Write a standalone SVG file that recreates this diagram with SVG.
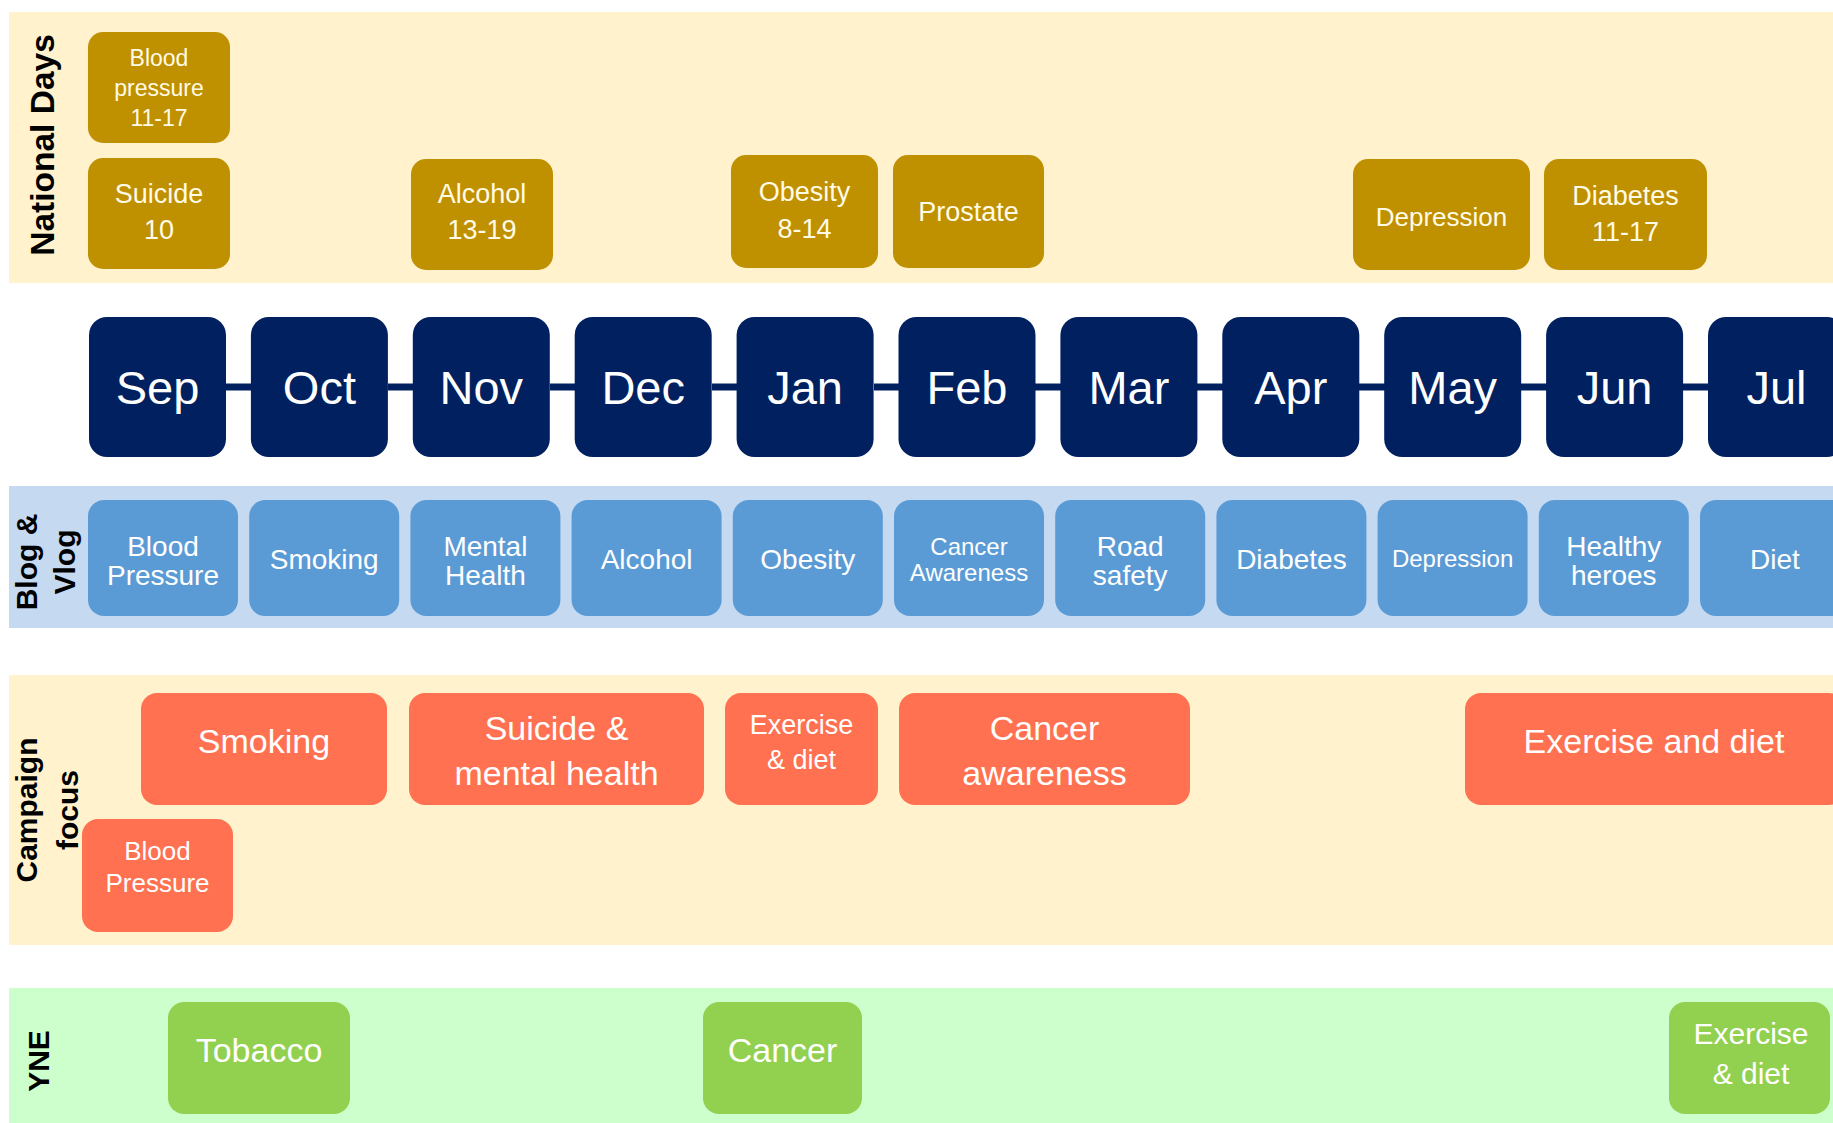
<svg xmlns="http://www.w3.org/2000/svg" width="1833" height="1123" viewBox="0 0 1833 1123">
<style>
text{font-family:"Liberation Sans",Arial,sans-serif;text-anchor:middle}
.band-cream{fill:#fff2cc}
.band-blue{fill:#c5d9f1}
.band-green{fill:#ccffcc}
.lab{font-weight:bold;fill:#000;font-size:30px}
.gold rect{fill:#bf9000}
.gold text{fill:#fffbe6;font-size:27px}
.month rect{fill:#002060}
.month text{fill:#fff;font-size:47px}
.blog rect{fill:#5b9bd5}
.blog text{fill:#fff;font-size:28px}
.camp rect{fill:#ff7150}
.camp text{fill:#fff;font-size:34px}
.yne rect{fill:#92d050}
.yne text{fill:#fff;font-size:34px}
.conn{stroke:#002060;stroke-width:7}
</style>
<rect width="1833" height="1123" fill="#fff"/>
<g id="bands">
<rect class="band-cream" x="9" y="12" width="1824" height="271"/>
<rect class="band-blue" x="9" y="486" width="1824" height="142"/>
<rect class="band-cream" x="9" y="675" width="1824" height="270"/>
<rect class="band-green" x="9" y="988" width="1824" height="135"/>
</g>
<g id="labels">
<text class="lab" style="font-size:33.5px" transform="translate(54,145) rotate(-90)">National Days</text>
<text class="lab" transform="translate(37,562) rotate(-90)">Blog &amp;</text>
<text class="lab" transform="translate(75,562) rotate(-90)">Vlog</text>
<text class="lab" transform="translate(37,810) rotate(-90)">Campaign</text>
<text class="lab" transform="translate(78,810) rotate(-90)">focus</text>
<text class="lab" transform="translate(49,1061) rotate(-90)">YNE</text>
</g>
<g id="connectors">
<line class="conn" x1="226" y1="387" x2="251" y2="387"/>
<line class="conn" x1="388" y1="387" x2="413" y2="387"/>
<line class="conn" x1="550" y1="387" x2="575" y2="387"/>
<line class="conn" x1="712" y1="387" x2="737" y2="387"/>
<line class="conn" x1="874" y1="387" x2="899" y2="387"/>
<line class="conn" x1="1035" y1="387" x2="1061" y2="387"/>
<line class="conn" x1="1197" y1="387" x2="1223" y2="387"/>
<line class="conn" x1="1359" y1="387" x2="1385" y2="387"/>
<line class="conn" x1="1521" y1="387" x2="1547" y2="387"/>
<line class="conn" x1="1683" y1="387" x2="1708" y2="387"/>
</g>
<g class="gold">
<g id="nd-blood-pressure"><rect x="88" y="32" width="142" height="111" rx="15"/><text x="159" y="66" style="font-size:23px">Blood</text><text x="159" y="96" style="font-size:23px">pressure</text><text x="159" y="126" style="font-size:23px">11-17</text></g>
<g id="nd-suicide"><rect x="88" y="158" width="142" height="111" rx="15"/><text x="159" y="203">Suicide</text><text x="159" y="239">10</text></g>
<g id="nd-alcohol"><rect x="411" y="159" width="142" height="111" rx="15"/><text x="482" y="203">Alcohol</text><text x="482" y="239">13-19</text></g>
<g id="nd-obesity"><rect x="731" y="155" width="147" height="113" rx="15"/><text x="804.5" y="201">Obesity</text><text x="804.5" y="238">8-14</text></g>
<g id="nd-prostate"><rect x="893" y="155" width="151" height="113" rx="15"/><text x="968.5" y="221">Prostate</text></g>
<g id="nd-depression"><rect x="1353" y="159" width="177" height="111" rx="15"/><text x="1441.5" y="226" style="font-size:26px">Depression</text></g>
<g id="nd-diabetes"><rect x="1544" y="159" width="163" height="111" rx="15"/><text x="1625.5" y="205">Diabetes</text><text x="1625.5" y="241">11-17</text></g>
</g>
<g class="month">
<g id="m-sep"><rect x="89" y="317" width="137" height="140" rx="18"/><text x="157.5" y="404">Sep</text></g>
<g id="m-oct"><rect x="250.9" y="317" width="137" height="140" rx="18"/><text x="319.4" y="404">Oct</text></g>
<g id="m-nov"><rect x="412.8" y="317" width="137" height="140" rx="18"/><text x="481.3" y="404">Nov</text></g>
<g id="m-dec"><rect x="574.7" y="317" width="137" height="140" rx="18"/><text x="643.2" y="404">Dec</text></g>
<g id="m-jan"><rect x="736.6" y="317" width="137" height="140" rx="18"/><text x="805.1" y="404">Jan</text></g>
<g id="m-feb"><rect x="898.5" y="317" width="137" height="140" rx="18"/><text x="967" y="404">Feb</text></g>
<g id="m-mar"><rect x="1060.4" y="317" width="137" height="140" rx="18"/><text x="1128.9" y="404">Mar</text></g>
<g id="m-apr"><rect x="1222.3" y="317" width="137" height="140" rx="18"/><text x="1290.8" y="404">Apr</text></g>
<g id="m-may"><rect x="1384.2" y="317" width="137" height="140" rx="18"/><text x="1452.7" y="404">May</text></g>
<g id="m-jun"><rect x="1546.1" y="317" width="137" height="140" rx="18"/><text x="1614.6" y="404">Jun</text></g>
<g id="m-jul"><rect x="1708" y="317" width="137" height="140" rx="18"/><text x="1776.5" y="404">Jul</text></g>
</g>
<g class="blog">
<g id="b-sep"><rect x="88" y="500" width="150" height="116" rx="16"/><text x="163" y="556">Blood</text><text x="163" y="585">Pressure</text></g>
<g id="b-oct"><rect x="249.2" y="500" width="150" height="116" rx="16"/><text x="324.2" y="569">Smoking</text></g>
<g id="b-nov"><rect x="410.4" y="500" width="150" height="116" rx="16"/><text x="485.4" y="556">Mental</text><text x="485.4" y="585">Health</text></g>
<g id="b-dec"><rect x="571.6" y="500" width="150" height="116" rx="16"/><text x="646.6" y="569">Alcohol</text></g>
<g id="b-jan"><rect x="732.8" y="500" width="150" height="116" rx="16"/><text x="807.8" y="569">Obesity</text></g>
<g id="b-feb"><rect x="894" y="500" width="150" height="116" rx="16"/><text x="969" y="555" style="font-size:24px">Cancer</text><text x="969" y="581" style="font-size:24px">Awareness</text></g>
<g id="b-mar"><rect x="1055.2" y="500" width="150" height="116" rx="16"/><text x="1130.2" y="556">Road</text><text x="1130.2" y="585">safety</text></g>
<g id="b-apr"><rect x="1216.4" y="500" width="150" height="116" rx="16"/><text x="1291.4" y="569">Diabetes</text></g>
<g id="b-may"><rect x="1377.6" y="500" width="150" height="116" rx="16"/><text x="1452.6" y="567" style="font-size:24px">Depression</text></g>
<g id="b-jun"><rect x="1538.8" y="500" width="150" height="116" rx="16"/><text x="1613.8" y="556">Healthy</text><text x="1613.8" y="585">heroes</text></g>
<g id="b-jul"><rect x="1700" y="500" width="150" height="116" rx="16"/><text x="1775" y="569">Diet</text></g>
</g>
<g class="camp">
<g id="c-smoking"><rect x="141" y="693" width="246" height="112" rx="16"/><text x="264" y="753">Smoking</text></g>
<g id="c-suicide"><rect x="409" y="693" width="295" height="112" rx="16"/><text x="556.5" y="740">Suicide &amp;</text><text x="556.5" y="785">mental health</text></g>
<g id="c-exercise-diet"><rect x="725" y="693" width="153" height="112" rx="16"/><text x="801.5" y="734" style="font-size:27px">Exercise</text><text x="801.5" y="769" style="font-size:27px">&amp; diet</text></g>
<g id="c-cancer"><rect x="899" y="693" width="291" height="112" rx="16"/><text x="1044.5" y="740">Cancer</text><text x="1044.5" y="785">awareness</text></g>
<g id="c-exercise-and-diet"><rect x="1465" y="693" width="380" height="112" rx="16"/><text x="1654" y="753">Exercise and diet</text></g>
<g id="c-blood-pressure"><rect x="82" y="819" width="151" height="113" rx="16"/><text x="157.5" y="860" style="font-size:26px">Blood</text><text x="157.5" y="892" style="font-size:26px">Pressure</text></g>
</g>
<g class="yne">
<g id="y-tobacco"><rect x="168" y="1002" width="182" height="112" rx="16"/><text x="259" y="1062">Tobacco</text></g>
<g id="y-cancer"><rect x="703" y="1002" width="159" height="112" rx="16"/><text x="782.5" y="1062">Cancer</text></g>
<g id="y-exercise"><rect x="1669" y="1002" width="161" height="112" rx="16"/><text x="1751" y="1044" style="font-size:30px">Exercise</text><text x="1751" y="1084" style="font-size:30px">&amp; diet</text></g>
</g>
</svg>
